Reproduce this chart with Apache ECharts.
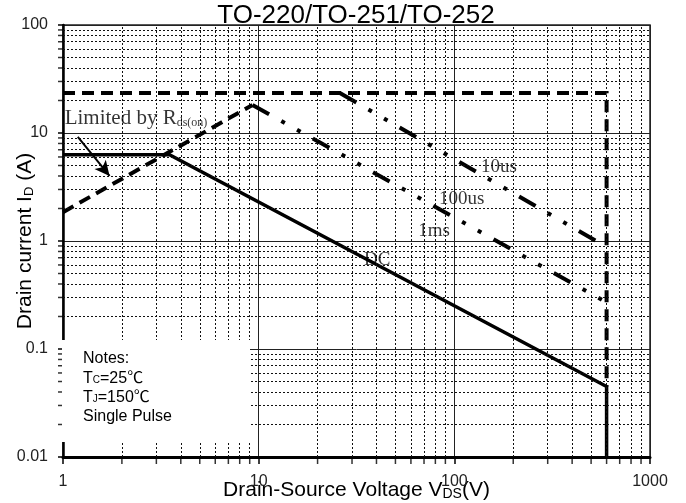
<!DOCTYPE html>
<html><head><meta charset="utf-8">
<script src="https://cdn.jsdelivr.net/npm/echarts@6/dist/echarts.min.js"></script>
<style>html,body{margin:0;padding:0;background:#fff}#c{width:686px;height:503px}</style>
</head><body><div id="c"></div>
<script>
// ---- data ----
const titleText = 'TO-220/TO-251/TO-252';
const xRange = [1, 1000];
const yRange = [0.01, 100];
const xMinor = [2,3,4,5,6,7,8,9,20,30,40,50,60,70,80,90,200,300,400,500,600,700,800,900];
const yMinor = [0.02,0.03,0.04,0.05,0.06,0.07,0.08,0.09,0.2,0.3,0.4,0.5,0.6,0.7,0.8,0.9,2,3,4,5,6,7,8,9,20,30,40,50,60,70,80,90];
const dcX = [1, 3.5, 600, 600];
const dcY = [6.3, 6.3, 0.045, 0.01];
const rdsX = [1, 9.3];
const rdsY = [1.85, 18.2];
const pulseX = [1, 600, 600];
const pulseY = [23.5, 23.5, 0.045];
const us10X = [26, 600];
const us10Y = [23.5, 0.88];
const us100X = [9.3, 600];
const us100Y = [18.2, 0.27];
const curveLabels = ['10us', '100us', '1ms', 'DC'];
const curveLabelX = [169, 109, 78.7, 40.3];
const curveLabelY = [4.84, 2.45, 1.24, 0.667];
const rdsLabelAt = [1.02, 13.5];
const arrowFrom = [1.19, 9.2];
const arrowTo = [1.73, 4.0];
const noteLines = ['Notes:', 'T|C|=25℃', 'T|J|=150℃', 'Single Pulse'];

const zip = (xs, ys) => xs.map((x, i) => [x, ys[i]]);
const SANS = 'Liberation Sans, Arial, Noto Sans CJK SC';
const SERIF = 'Liberation Serif, Times New Roman, serif';
const fmt = v => String(+Number(v).toPrecision(6));

const chart = echarts.init(document.getElementById('c'), null, {renderer: 'canvas'});

const blackLine = (w, type) => ({color: '#000', width: w, type: type, cap: 'butt', join: 'miter'});
const dashDot = [19, 14, 4, 14, 4, 14];

const noteText = noteLines.map(l => {
  const p = l.split('|');
  if (p.length === 3) return '{a|' + p[0] + '}{s|' + p[1] + '}{a|' + p[2] + '}';
  return '{a|' + l + '}';
}).join('\n');

const option = {
  animation: false,
  backgroundColor: '#fff',
  title: {
    text: titleText, left: 356, top: 3, textAlign: 'center', padding: 0,
    textStyle: {fontSize: 26, fontWeight: 'normal', fontFamily: SANS, color: '#000'}
  },
  grid: {left: 63, top: 25, width: 587, height: 432, show: true, borderColor: '#222', borderWidth: 1.5,
    containLabel: false, outerBoundsMode: 'none'},
  xAxis: {
    type: 'log', logBase: 10, min: xRange[0], max: xRange[1],
    name: '{a|Drain-Source Voltage V}{s|DS}{a|(V)}',
    nameLocation: 'middle', nameGap: 21, nameMoveOverlap: false,
    nameTextStyle: {
      rich: {
        a: {fontSize: 21, fontFamily: SANS, color: '#000', lineHeight: 24},
        s: {fontSize: 14, fontFamily: SANS, color: '#000', lineHeight: 16, padding: [8, 0, 0, 0]}
      }
    },
    axisLine: {show: true, lineStyle: {color: '#000', width: 3}},
    axisTick: {show: true, length: 7, lineStyle: {color: '#000', width: 1.5}},
    axisLabel: {fontSize: 16, fontFamily: SANS, color: '#222', margin: 17, formatter: fmt},
    splitLine: {show: true, lineStyle: {color: '#222', width: 1}},
    minorTick: {show: false}, minorSplitLine: {show: false}
  },
  yAxis: {
    type: 'log', logBase: 10, min: yRange[0], max: yRange[1],
    name: '{a|Drain current I}{s|D}{a| (A)}',
    nameLocation: 'middle', nameGap: 26, nameMoveOverlap: false,
    nameTextStyle: {
      rich: {
        a: {fontSize: 21, fontFamily: SANS, color: '#000', lineHeight: 24},
        s: {fontSize: 13, fontFamily: SANS, color: '#000', lineHeight: 16, padding: [8, 0, 0, 0]}
      }
    },
    axisLine: {show: true, lineStyle: {color: '#000', width: 2.5}},
    axisTick: {show: true, length: 5, lineStyle: {color: '#000', width: 1.5}},
    axisLabel: {fontSize: 16, fontFamily: SANS, color: '#222', margin: 15, formatter: fmt},
    splitLine: {show: true, lineStyle: {color: '#222', width: 1}},
    minorTick: {show: false}, minorSplitLine: {show: false}
  },
  graphic: [
    {type: 'rect', z: 100, shape: {x: 62, y: 340, width: 188, height: 102}, style: {fill: '#fff'}},
    {type: 'text', z: 101, left: 83, top: 351,
      style: {
        text: noteText, fill: '#000',
        rich: {
          a: {fontSize: 16, fontFamily: SANS, lineHeight: 19.3, fill: '#000'},
          s: {fontSize: 10, fontFamily: SANS, lineHeight: 15.3, padding: [4, 0, 0, 0], fill: '#000'}
        }
      }
    }
  ],
  series: [
    {
      type: 'line', data: [], silent: true, symbol: 'none', z: 1,
      markLine: {
        silent: true, symbol: 'none', animation: false, label: {show: false},
        lineStyle: {color: '#111', width: 1, type: [2, 2]},
        emphasis: {disabled: true},
        data: xMinor.map(v => ({xAxis: v})).concat(yMinor.map(v => ({yAxis: v})))
      }
    },
    {type: 'line', data: zip(pulseX, pulseY), symbol: 'none', silent: true, z: 3, lineStyle: blackLine(4, [12, 7])},
    {type: 'line', data: zip(rdsX, rdsY), symbol: 'none', silent: true, z: 3, lineStyle: blackLine(4, [12, 7])},
    {type: 'line', data: zip(us10X, us10Y), symbol: 'none', silent: true, z: 3, lineStyle: blackLine(4, dashDot)},
    {type: 'line', data: zip(us100X, us100Y), symbol: 'none', silent: true, z: 3, lineStyle: blackLine(4, dashDot)},
    {
      type: 'line', data: zip(dcX, dcY), symbol: 'none', silent: true, z: 4, lineStyle: blackLine(3.5, 'solid'),
      markLine: {
        silent: true, symbol: ['none', 'arrow'], symbolSize: [11, 15], label: {show: false},
        lineStyle: {color: '#000', width: 2, type: 'solid'},
        emphasis: {disabled: true},
        data: [[{coord: arrowFrom}, {coord: arrowTo}]]
      }
    },
    {
      type: 'scatter', silent: true, symbolSize: 0, z: 5, clip: false,
      data: curveLabels.map((n, i) => ({name: n, value: [curveLabelX[i], curveLabelY[i]]})),
      label: {show: true, position: 'inside', formatter: '{b}', fontFamily: SERIF, fontSize: 19, color: '#000'}
    },
    {
      type: 'scatter', silent: true, symbolSize: 0, z: 5, clip: false,
      data: [{name: 'rds', value: rdsLabelAt}],
      label: {
        show: true, position: 'right', distance: 0,
        formatter: '{a|Limited by R}{s|ds(on)}',
        rich: {
          a: {fontFamily: SERIF, fontSize: 21, color: '#000', lineHeight: 24},
          s: {fontFamily: SERIF, fontSize: 12, color: '#000', lineHeight: 16, padding: [8, 0, 0, 0]}
        }
      }
    },
    {
      type: 'scatter', silent: true, clip: false, z: 6, symbol: 'rect', symbolSize: [1.5, 7], symbolOffset: [0, 3.5],
      itemStyle: {color: '#000'}, data: xMinor.map(v => [v, yRange[0]])
    },
    {
      type: 'scatter', silent: true, clip: false, z: 6, symbol: 'rect', symbolSize: [5, 1.5], symbolOffset: [-2.5, 0],
      itemStyle: {color: '#000'}, data: yMinor.map(v => [xRange[0], v])
    }
  ]
};
chart.setOption(option);
</script></body></html>
